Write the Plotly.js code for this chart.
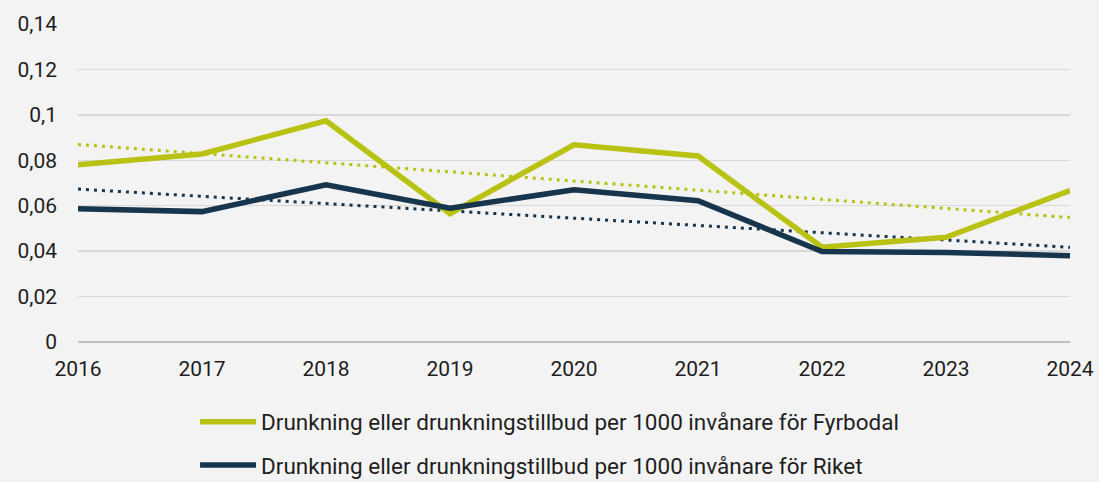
<!DOCTYPE html>
<html>
<head>
<meta charset="utf-8">
<script src="https://cdn.plot.ly/plotly-3.0.1.min.js"></script>
<style>
html,body{margin:0;padding:0;background:#f3f3f3;}
#chart{width:1099px;height:482px;}
</style>
</head>
<body>
<div id="chart"></div>
<script>
var years = [2016, 2017, 2018, 2019, 2020, 2021, 2022, 2023, 2024];
var fyrbodal = [0.078, 0.0828, 0.0974, 0.0565, 0.0868, 0.0819, 0.0417, 0.0461, 0.0667];
var riket = [0.0587, 0.0574, 0.0692, 0.0589, 0.067, 0.0622, 0.0398, 0.0394, 0.038];
var nameFyrbodal = "Drunkning eller drunkningstillbud per 1000 invånare för Fyrbodal";
var nameRiket = "Drunkning eller drunkningstillbud per 1000 invånare för Riket";

var green = "#b9c112";
var navy = "#17364e";

function linearTrend(xs, ys) {
  var n = xs.length, mx = 0, my = 0;
  for (var i = 0; i < n; i++) { mx += xs[i]; my += ys[i]; }
  mx /= n; my /= n;
  var sxy = 0, sxx = 0;
  for (var j = 0; j < n; j++) { sxy += (xs[j]-mx)*(ys[j]-my); sxx += (xs[j]-mx)*(xs[j]-mx); }
  var b = sxy / sxx, a = my - b*mx;
  return xs.map(function(x){ return a + b*x; });
}

var traces = [
  {x: years, y: linearTrend(years, fyrbodal), mode: "lines", showlegend: false, hoverinfo: "skip",
   line: {color: green, width: 3, dash: "3px,5px"}},
  {x: years, y: linearTrend(years, riket), mode: "lines", showlegend: false, hoverinfo: "skip",
   line: {color: navy, width: 3, dash: "3px,5px"}},
  {x: years, y: fyrbodal, mode: "lines", name: nameFyrbodal, legendgroup: "a",
   line: {color: green, width: 5.5}},
  {x: years, y: riket, mode: "lines", name: nameRiket, legendgroup: "b",
   line: {color: navy, width: 5.5}}
];

var layout = {
  width: 1099, height: 482,
  paper_bgcolor: "#f3f3f3", plot_bgcolor: "#f3f3f3",
  margin: {l: 78, r: 29, t: 24, b: 140, autoexpand: false},
  separators: ", ",
  font: {family: "Roboto, sans-serif", size: 21, color: "#1e1e1e"},
  showlegend: true,
  xaxis: {
    range: [2016, 2024], tickvals: years, ticktext: years.map(String),
    showgrid: false, zeroline: false, showline: false, ticks: "",
    tickangle: 0, ticklabelstandoff: 12, fixedrange: true
  },
  yaxis: {
    range: [0, 0.14], dtick: 0.02, tick0: 0,
    gridcolor: "#d9d9d9", gridwidth: 1.5,
    zeroline: true, zerolinecolor: "#bfbfbf", zerolinewidth: 2,
    showline: false, ticks: "", ticklabelstandoff: 20, fixedrange: true
  },
  legend: {
    orientation: "v",
    x: 0.118, xanchor: "left", y: -0.184, yanchor: "top",
    traceorder: "grouped", tracegroupgap: 11,
    itemwidth: 56, bgcolor: "rgba(0,0,0,0)",
    font: {family: "Roboto, sans-serif", size: 22.5, color: "#1e1e1e"}
  }
};

Plotly.newPlot("chart", traces, layout, {displayModeBar: false, staticPlot: true});
</script>
</body>
</html>
